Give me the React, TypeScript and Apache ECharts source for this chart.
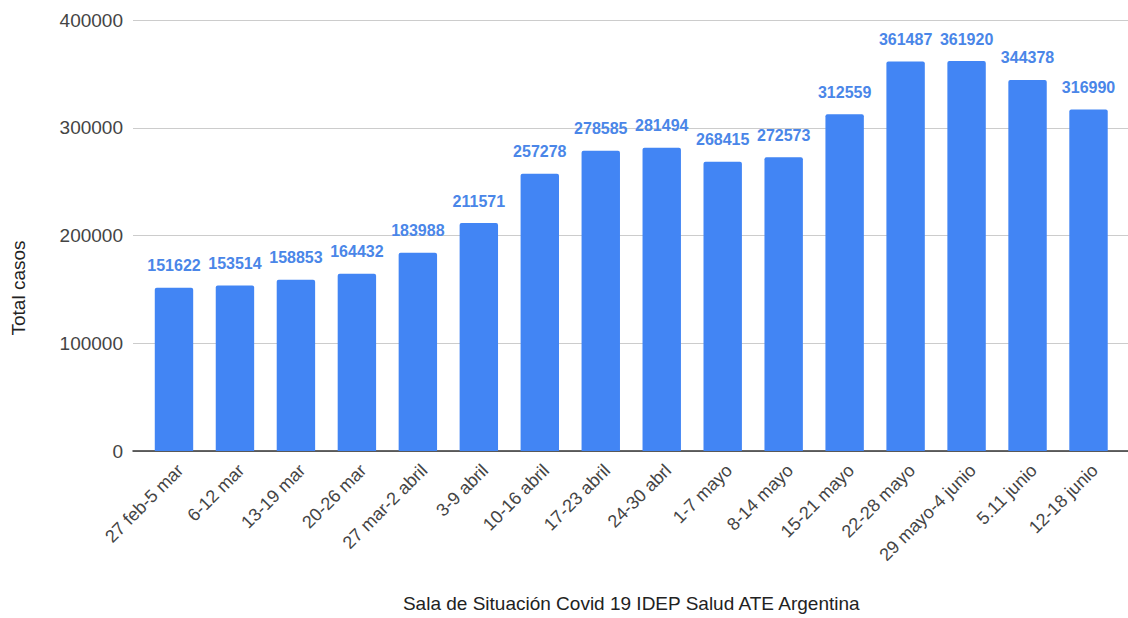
import React, { useEffect, useRef } from "react";
import * as echarts from "echarts";

const categories = [
  "27 feb-5 mar", "6-12 mar", "13-19 mar", "20-26 mar", "27 mar-2 abril", "3-9 abril",
  "10-16 abril", "17-23 abril", "24-30 abrl", "1-7 mayo", "8-14 mayo", "15-21 mayo",
  "22-28 mayo", "29 mayo-4 junio", "5.11 junio", "12-18 junio",
];
const totalCasos = [
  151622, 153514, 158853, 164432, 183988, 211571, 257278, 278585, 281494, 268415,
  272573, 312559, 361487, 361920, 344378, 316990,
];
const yMin = 0;
const yMax = 400000;
const yStep = 100000;

export default function App() {
  const ref = useRef<HTMLDivElement>(null);
  useEffect(() => {
    if (!ref.current) return;
    const chart = echarts.init(ref.current, null, { renderer: "svg" });
    const font = "Liberation Sans, Arial, sans-serif";
    chart.setOption({
      animation: false,
      textStyle: { fontFamily: font },
      grid: [
        { left: 143.5, right: 9, top: 20, height: 431, containLabel: false },
        { left: 133, right: 0, top: 20, height: 431, containLabel: false },
      ],
      xAxis: [
        {
          type: "category",
          gridIndex: 0,
          data: categories,
          name: "Sala de Situación Covid 19 IDEP Salud ATE Argentina",
          nameLocation: "middle",
          nameGap: 143,
          nameTextStyle: { color: "#222", fontSize: 19, fontFamily: font },
          axisTick: { show: false },
          axisLine: { show: false },
          axisLabel: {
            rotate: 45,
            color: "#444",
            fontSize: 18,
            margin: 10,
            interval: 0,
            verticalAlign: "top",
          },
        },
        {
          type: "value",
          gridIndex: 1,
          min: 0,
          max: 1,
          axisTick: { show: false },
          axisLabel: { show: false },
          splitLine: { show: false },
          axisLine: { show: true, onZero: false, lineStyle: { color: "#333", width: 1.5 } },
        },
      ],
      yAxis: [
        {
          type: "value",
          gridIndex: 0,
          min: yMin,
          max: yMax,
          interval: yStep,
          axisLine: { show: false },
          axisTick: { show: false },
          axisLabel: { show: false },
          splitLine: { show: false },
        },
        {
          type: "value",
          gridIndex: 1,
          min: yMin,
          max: yMax,
          interval: yStep,
          axisLine: { show: false },
          axisTick: { show: false },
          axisLabel: { color: "#444", fontSize: 19, margin: 10, formatter: (v: number) => String(v) },
          splitLine: { lineStyle: { color: "#ccc", width: 1 } },
        },
      ],
      graphic: [
        {
          type: "text",
          x: 18,
          y: 288,
          rotation: Math.PI / 2,
          style: {
            text: "Total casos",
            fill: "#222",
            fontSize: 19,
            fontFamily: font,
            align: "center",
            verticalAlign: "middle",
          },
        },
      ],
      series: [
        {
          type: "bar",
          xAxisIndex: 0,
          yAxisIndex: 0,
          data: totalCasos,
          barWidth: "63%",
          itemStyle: { color: "#4285f4", borderRadius: [2, 2, 0, 0] },
          label: {
            show: true,
            position: "top",
            distance: 14,
            color: "#4a86e8",
            fontWeight: "bold",
            fontSize: 16,
          },
        },
      ],
    });
    return () => chart.dispose();
  }, []);
  return <div ref={ref} style={{ position: "absolute", left: 0, top: 0, width: 1128, height: 618 }} />;
}
